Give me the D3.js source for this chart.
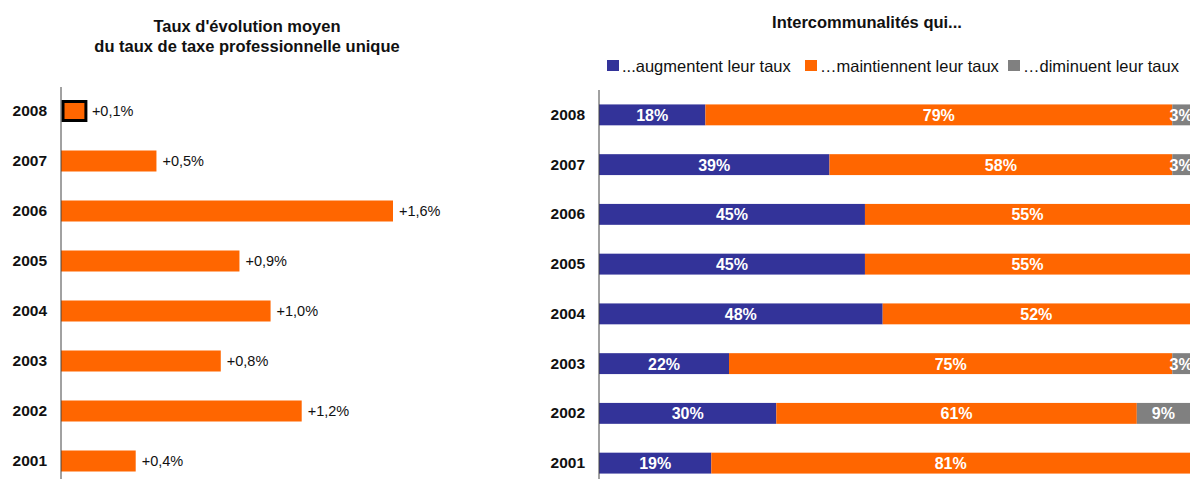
<!DOCTYPE html>
<html><head><meta charset="utf-8">
<script src="https://cdn.jsdelivr.net/npm/d3@7/dist/d3.min.js"></script>
<style>body{margin:0;background:#fff;}svg{display:block;font-family:"Liberation Sans",Arial,sans-serif;}</style>
</head><body>
<svg id="c" width="1192" height="479"></svg>
<script>
const years = ["2008","2007","2006","2005","2004","2003","2002","2001"];
const evolution = [0.12, 0.46, 1.6, 0.86, 1.01, 0.77, 1.16, 0.36];
const augmentent = [18, 39, 45, 45, 48, 22, 30, 19];
const maintiennent = [79, 58, 55, 55, 52, 75, 61, 81];
const diminuent = [3, 3, 0, 0, 0, 3, 9, 0];
const seriesNames = ["...augmentent leur taux", "\u2026maintiennent leur taux", "\u2026diminuent leur taux"];
const colors = ["#333399", "#FF6600", "#808080"];

const svg = d3.select("#c");

// ---------- Left chart ----------
const yL = d3.scaleBand().domain(years).range([86, 486]).paddingInner(0.58).paddingOuter(0.29);
const xL = d3.scaleLinear().domain([0, 1.6]).range([61, 393]);
const fmt = v => "+" + d3.format(".1f")(v).replace(".", ",") + "%";

const gL = svg.append("g");
gL.append("text").attr("x", 247).attr("y", 32).attr("text-anchor", "middle")
  .attr("font-size", 16.5).attr("font-weight", "bold").attr("fill", "#111").text("Taux d'évolution moyen");
gL.append("text").attr("x", 247).attr("y", 52).attr("text-anchor", "middle")
  .attr("font-size", 16.5).attr("font-weight", "bold").attr("fill", "#111").text("du taux de taxe professionnelle unique");

gL.selectAll("rect.bar").data(years).join("rect")
  .attr("x", (d, i) => xL(0) + (i === 0 ? 2 : 0)).attr("y", (d, i) => yL(d) + (i === 0 ? 1 : 0))
  .attr("width", (d, i) => xL(evolution[i]) - xL(0) - (i === 0 ? 2 : 0))
  .attr("height", (d, i) => yL.bandwidth() - (i === 0 ? 2 : 0))
  .attr("fill", "#FF6600")
  .attr("stroke", (d, i) => i === 0 ? "#000" : "none")
  .attr("stroke-width", 3);
gL.selectAll("text.val").data(years).join("text")
  .attr("x", (d, i) => xL(evolution[i]) + 6)
  .attr("y", d => yL(d) + yL.bandwidth() / 2 + 5)
  .attr("font-size", 14.5).attr("fill", "#111")
  .text((d, i) => fmt(evolution[i]));
const axL = gL.append("g").attr("transform", `translate(${xL(0)},0)`)
  .call(d3.axisLeft(yL).tickSize(0).tickPadding(14));
axL.select(".domain").attr("stroke", "#444").attr("d", `M0,87V479`);
axL.selectAll("text").attr("font-size", 15.5).attr("font-weight", "bold").attr("fill", "#111")
  .attr("font-family", "Liberation Sans, Arial, sans-serif");

// ---------- Right chart ----------
const yR = d3.scaleBand().domain(years).range([90, 488]).paddingInner(0.58).paddingOuter(0.29);
const xR = d3.scaleLinear().domain([0, 100]).range([599, 1190]);
const gR = svg.append("g");
gR.append("text").attr("x", 867).attr("y", 28).attr("text-anchor", "middle")
  .attr("font-size", 16.5).attr("font-weight", "bold").attr("fill", "#111").text("Intercommunalités qui...");

// legend
const legX = [607, 805, 1008];
seriesNames.forEach((n, k) => {
  gR.append("rect").attr("x", legX[k]).attr("y", 60).attr("width", 12).attr("height", 11).attr("fill", colors[k]);
  gR.append("text").attr("x", legX[k] + 15).attr("y", 72).attr("font-size", 16.5).attr("fill", "#111").text(n);
});

const stackData = years.map((y, i) => ({year: y, a: augmentent[i], m: maintiennent[i], d: diminuent[i]}));
const stack = d3.stack().keys(["a", "m", "d"])(stackData);
stack.forEach((layer, k) => {
  const g = gR.append("g");
  g.selectAll("rect").data(layer).join("rect")
    .attr("x", d => xR(d[0])).attr("y", d => yR(d.data.year))
    .attr("width", d => xR(d[1]) - xR(d[0])).attr("height", yR.bandwidth())
    .attr("fill", colors[k]);
  g.selectAll("text").data(layer.filter(d => d[1] - d[0] > 0)).join("text")
    .attr("x", d => (xR(d[0]) + xR(d[1])) / 2)
    .attr("y", d => yR(d.data.year) + yR.bandwidth() / 2 + 6)
    .attr("text-anchor", "middle").attr("font-size", 16).attr("font-weight", "bold").attr("fill", "#fff")
    .text(d => (d[1] - d[0]) + "%");
});
const axR = gR.append("g").attr("transform", `translate(${xR(0)},0)`)
  .call(d3.axisLeft(yR).tickSize(0).tickPadding(14));
axR.select(".domain").attr("stroke", "#444").attr("d", `M0,90V479`);
axR.selectAll("text").attr("font-size", 15.5).attr("font-weight", "bold").attr("fill", "#111")
  .attr("font-family", "Liberation Sans, Arial, sans-serif");
</script>
</body></html>
